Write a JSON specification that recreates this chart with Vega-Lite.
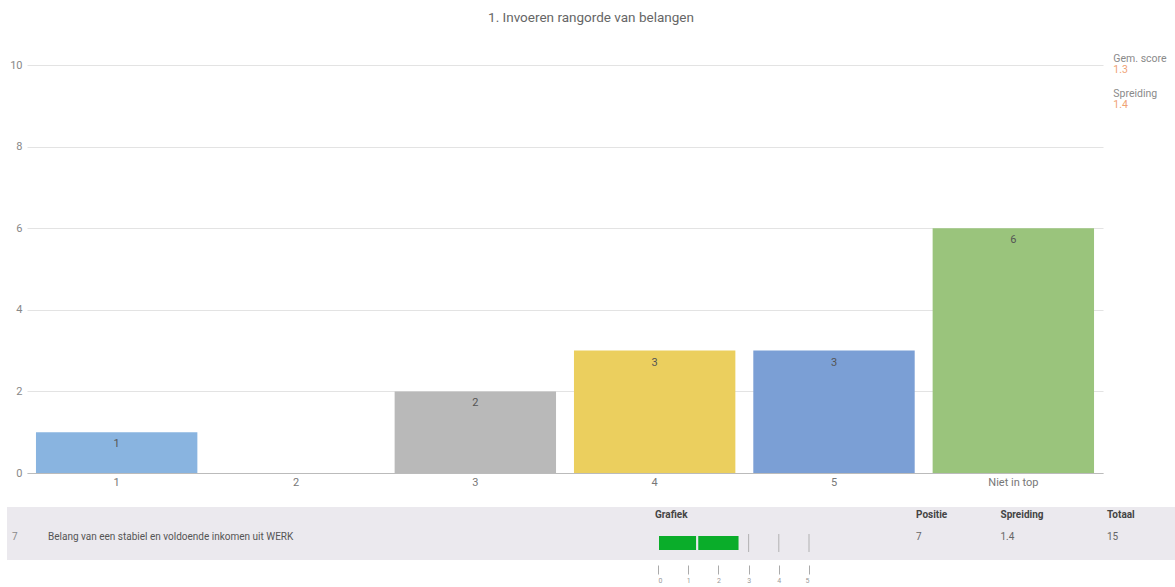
{
  "$schema": "https://vega.github.io/schema/vega-lite/v6.json",
  "padding": {"left": 7, "top": 10, "right": 0, "bottom": 0},
  "background": "white",
  "config": {"font": "Roboto", "view": {"stroke": null}},
  "title": {"text": "1. Invoeren rangorde van belangen", "fontSize": 13.5, "fontWeight": "normal", "color": "#666666", "anchor": "middle", "offset": 30},
  "datasets": {
    "rangorde": [
      {"rang": "1", "aantal": 1},
      {"rang": "2", "aantal": 0},
      {"rang": "3", "aantal": 2},
      {"rang": "4", "aantal": 3},
      {"rang": "5", "aantal": 3},
      {"rang": "Niet in top", "aantal": 6}
    ],
    "stats": [
      {"maat": "Gem. score", "waarde": 1.3},
      {"maat": "Spreiding", "waarde": 1.4}
    ],
    "tabel": [
      {"kolom": "nr", "rij": "waarde", "tekst": "7"},
      {"kolom": "vraag", "rij": "waarde", "tekst": "Belang van een stabiel en voldoende inkomen uit WERK"},
      {"kolom": "Grafiek", "rij": "kop", "tekst": "Grafiek"},
      {"kolom": "Positie", "rij": "kop", "tekst": "Positie"},
      {"kolom": "Spreiding", "rij": "kop", "tekst": "Spreiding"},
      {"kolom": "Totaal", "rij": "kop", "tekst": "Totaal"},
      {"kolom": "Positie", "rij": "waarde", "tekst": "7"},
      {"kolom": "Spreiding", "rij": "waarde", "tekst": "1.4"},
      {"kolom": "Totaal", "rij": "waarde", "tekst": "15"}
    ],
    "rijen": [{"rij": "Belang van een stabiel en voldoende inkomen uit WERK"}],
    "schaal": [{"v": 0}, {"v": 1}, {"v": 2}, {"v": 3}, {"v": 4}, {"v": 5}]
  },
  "spacing": 20,
  "vconcat": [
    {
      "width": 1076,
      "height": 408,
      "layer": [
        {
          "data": {"name": "rangorde"},
          "encoding": {
            "x": {"field": "rang", "type": "nominal", "sort": null,
              "scale": {"paddingInner": 0.1, "paddingOuter": 0.05},
              "axis": {"title": null, "labelAngle": 0, "ticks": false, "domainColor": "#bbbbbb", "labelColor": "#777777", "labelFontSize": 11, "labelPadding": 3}},
            "y": {"field": "aantal", "type": "quantitative",
              "scale": {"domain": [0, 10]},
              "axis": {"title": null, "values": [0, 2, 4, 6, 8, 10], "domain": false, "ticks": false, "gridColor": "#e3e3e3", "labelColor": "#888888", "labelFontSize": 11, "labelPadding": 5, "minExtent": 20, "maxExtent": 20}}
          },
          "layer": [
            {
              "mark": {"type": "bar"},
              "encoding": {
                "color": {"field": "rang", "type": "nominal", "legend": null,
                  "scale": {"domain": ["1", "2", "3", "4", "5", "Niet in top"],
                    "range": ["#89b4e0", "#e58a8a", "#b9b9b9", "#ebcf5e", "#7b9fd5", "#9ac47c"]}}
              }
            },
            {
              "transform": [{"filter": "datum.aantal > 0"}],
              "mark": {"type": "text", "dy": 12, "baseline": "middle", "fontSize": 11, "color": "#555555"},
              "encoding": {"text": {"field": "aantal", "type": "quantitative"}}
            }
          ]
        },
        {
          "data": {"name": "stats"},
          "encoding": {
            "x": {"datum": "Niet in top", "type": "nominal"},
            "y": {"field": "maat", "type": "nominal", "sort": null, "axis": null,
              "scale": {"type": "point", "domain": ["Gem. score", "Spreiding"], "range": [-6, 29], "padding": 0}}
          },
          "layer": [
            {
              "mark": {"type": "text", "align": "left", "baseline": "middle", "dx": 100, "fontSize": 10.5, "color": "#8a8a8a"},
              "encoding": {"text": {"field": "maat"}}
            },
            {
              "mark": {"type": "text", "align": "left", "baseline": "middle", "dx": 100, "dy": 11, "fontSize": 10.5, "color": "#f0a274"},
              "encoding": {"text": {"field": "waarde", "type": "quantitative", "format": ".1f"}}
            }
          ]
        }
      ],
      "resolve": {"scale": {"y": "independent"}}
    },
    {
      "width": 1148,
      "height": 53,
      "layer": [
        {
          "data": {"name": "rijen"},
          "mark": {"type": "rect", "color": "#ebe9ee"},
          "encoding": {
            "x": {"datum": 0, "type": "quantitative", "axis": null,
              "scale": {"domain": [0, 1], "range": [-20, 1148], "nice": false, "zero": false}},
            "x2": {"datum": 1},
            "y": {"field": "rij", "type": "nominal", "axis": null,
              "scale": {"type": "band", "range": [0, 53], "paddingInner": 0, "paddingOuter": 0}}
          }
        },
        {
          "data": {"name": "tabel"},
          "transform": [{"filter": "datum.kolom === 'nr' || datum.kolom === 'vraag'"}],
          "encoding": {
            "x": {"field": "kolom", "type": "nominal", "axis": null,
              "scale": {"type": "point", "domain": ["nr", "vraag"], "range": [-15, 21], "padding": 0}},
            "y": {"field": "rij", "type": "nominal", "axis": null,
              "scale": {"type": "point", "domain": ["kop", "waarde"], "range": [8, 30], "padding": 0}},
            "text": {"field": "tekst"}
          },
          "layer": [
            {
              "transform": [{"filter": "datum.kolom === 'nr'"}],
              "mark": {"type": "text", "align": "left", "baseline": "middle", "fontSize": 10, "color": "#8a8a8a"}
            },
            {
              "transform": [{"filter": "datum.kolom === 'vraag'"}],
              "mark": {"type": "text", "align": "left", "baseline": "middle", "fontSize": 10, "color": "#555555"}
            }
          ]
        },
        {
          "encoding": {
            "x": {"type": "quantitative",
              "scale": {"domain": [0, 5], "range": [631, 782], "nice": false, "zero": false},
              "axis": {"title": null, "orient": "bottom", "offset": 5, "domain": false, "grid": false, "values": [0, 1, 2, 3, 4, 5], "tickSize": 9, "tickColor": "#aaaaaa", "labelFontSize": 7, "labelColor": "#999999", "labelPadding": 2}},
            "y": {"type": "nominal", "axis": null,
              "scale": {"type": "band", "domain": ["kop", "waarde"], "range": [-6, 50], "paddingInner": 0, "paddingOuter": 0}}
          },
          "layer": [
            {
              "data": {"name": "schaal"},
              "mark": {"type": "tick", "size": 18, "thickness": 1, "color": "#9a9a9a"},
              "encoding": {
                "x": {"field": "v", "type": "quantitative"},
                "y": {"datum": "waarde", "type": "nominal"}
              }
            },
            {
              "data": {"name": "stats"},
              "mark": {"type": "bar", "height": 16, "color": "#0aad2a", "stroke": "#ebe9ee", "strokeWidth": 2},
              "encoding": {
                "x": {"field": "waarde", "type": "quantitative", "stack": "zero"},
                "y": {"datum": "waarde", "type": "nominal"},
                "detail": {"field": "maat"}
              }
            },
            {
              "data": {"name": "tabel"},
              "transform": [{"filter": "datum.kolom === 'Grafiek'"}],
              "mark": {"type": "text", "align": "left", "baseline": "middle", "dx": -3, "fontSize": 10, "fontWeight": "bold", "color": "#444444"},
              "encoding": {
                "x": {"datum": 0, "type": "quantitative"},
                "y": {"field": "rij", "type": "nominal"},
                "text": {"field": "tekst"}
              }
            }
          ]
        },
        {
          "data": {"name": "tabel"},
          "transform": [{"filter": "datum.kolom === 'Positie' || datum.kolom === 'Spreiding' || datum.kolom === 'Totaal'"}],
          "encoding": {
            "x": {"field": "kolom", "type": "nominal", "axis": null,
              "scale": {"type": "point", "domain": ["Positie", "Spreiding", "Totaal"], "range": [889, 1080], "padding": 0}},
            "y": {"field": "rij", "type": "nominal", "axis": null,
              "scale": {"type": "point", "domain": ["kop", "waarde"], "range": [8, 30], "padding": 0}},
            "text": {"field": "tekst"}
          },
          "layer": [
            {
              "transform": [{"filter": "datum.rij === 'kop' && datum.kolom !== 'Spreiding'"}],
              "mark": {"type": "text", "align": "left", "baseline": "middle", "fontSize": 10, "fontWeight": "bold", "color": "#444444"}
            },
            {
              "transform": [{"filter": "datum.rij === 'kop' && datum.kolom === 'Spreiding'"}],
              "mark": {"type": "text", "align": "left", "baseline": "middle", "dx": -11, "fontSize": 10, "fontWeight": "bold", "color": "#444444"}
            },
            {
              "transform": [{"filter": "datum.rij === 'waarde' && datum.kolom !== 'Spreiding'"}],
              "mark": {"type": "text", "align": "left", "baseline": "middle", "fontSize": 10, "color": "#666666"}
            },
            {
              "transform": [{"filter": "datum.rij === 'waarde' && datum.kolom === 'Spreiding'"}],
              "mark": {"type": "text", "align": "left", "baseline": "middle", "dx": -11, "fontSize": 10, "color": "#666666"}
            }
          ]
        }
      ],
      "resolve": {"scale": {"x": "independent", "y": "independent"}}
    }
  ]
}
